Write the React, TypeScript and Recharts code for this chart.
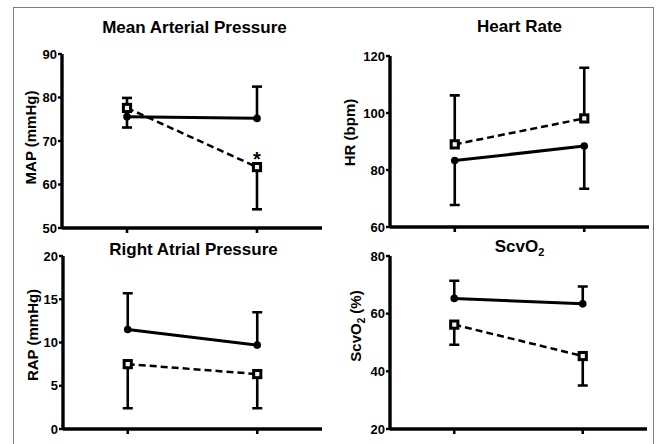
import React from "react";
import { LineChart, Line, XAxis, YAxis, ErrorBar, LabelList } from "recharts";

const FONT = "'Liberation Sans', Arial, Helvetica, sans-serif";

// two time points on the x axis
const timepoints = [1, 2];

// Mean arterial pressure (mmHg); errors are [below, above]
const mapSolid = [75.6, 75.2];
const mapSolidErr = [[0, 4.3], [0, 7.3]];
const mapDashed = [77.6, 64.0];
const mapDashedErr = [[4.5, 0], [9.7, 0]];
const mapMarks = ["", "*"];
const mapTicks = [50, 60, 70, 80, 90];

// Heart rate (bpm)
const hrSolid = [83.3, 88.4];
const hrSolidErr = [[15.6, 0], [15.0, 0]];
const hrDashed = [89.0, 98.1];
const hrDashedErr = [[0, 17.2], [0, 17.8]];
const hrTicks = [60, 80, 100, 120];

// Right atrial pressure (mmHg)
const rapSolid = [11.5, 9.7];
const rapSolidErr = [[0, 4.2], [0, 3.8]];
const rapDashed = [7.5, 6.35];
const rapDashedErr = [[5.1, 0], [3.95, 0]];
const rapTicks = [0, 5, 10, 15, 20];

// ScvO2 (%)
const scvSolid = [65.3, 63.4];
const scvSolidErr = [[0, 6.1], [0, 6.0]];
const scvDashed = [56.2, 45.3];
const scvDashedErr = [[7.0, 0], [10.2, 0]];
const scvTicks = [20, 40, 60, 80];

const capOf = (mean: number, err: number[]) => (err[1] > 0 ? mean + err[1] : mean - err[0]);

function buildRows(solid: number[], solidErr: number[][], dashed: number[], dashedErr: number[][], marks?: string[]) {
  return timepoints.map((t, i) => ({
    t,
    solid: solid[i],
    solidErr: solidErr[i],
    solidCap: capOf(solid[i], solidErr[i]),
    dashed: dashed[i],
    dashedErr: dashedErr[i],
    dashedCap: capOf(dashed[i], dashedErr[i]),
    mark: marks ? marks[i] : "",
  }));
}

const capDot = (p: any) => (
  <line key={`cap-${p.index}`} x1={p.cx - 5} x2={p.cx + 5} y1={p.cy} y2={p.cy} stroke="#000" strokeWidth={2.6} />
);
const circleDot = (p: any) => <circle key={`c-${p.index}`} cx={p.cx} cy={p.cy} r={3.8} fill="#000" />;
const squareDot = (p: any) => (
  <rect key={`s-${p.index}`} x={p.cx - 3.6} y={p.cy - 3.6} width={7.2} height={7.2} fill="#f2f2f2" stroke="#000" strokeWidth={3} />
);

const tickStyle = { fill: "#000", fontSize: 13, fontWeight: "bold" as const, fontFamily: FONT };

function Panel({ left, top, height, right, marginTop, domain, ticks, rows }: any) {
  return (
    <div style={{ position: "absolute", left, top }}>
      <LineChart width={330} height={height} data={rows} margin={{ top: marginTop, right, bottom: 0, left: 0 }}>
        <XAxis
          dataKey="t"
          type="number"
          domain={[0.5, 2.5]}
          ticks={timepoints}
          tickFormatter={() => ""}
          height={17}
          axisLine={{ stroke: "#000", strokeWidth: 3.4 }}
          tickLine={{ stroke: "#000", strokeWidth: 2.6 }}
          tickSize={5}
        />
        <YAxis
          type="number"
          domain={domain}
          ticks={ticks}
          allowDataOverflow
          width={62}
          tick={tickStyle}
          axisLine={{ stroke: "#000", strokeWidth: 3.4 }}
          tickLine={{ stroke: "#000", strokeWidth: 2.4 }}
          tickSize={4}
          tickMargin={1}
        />
        <Line dataKey="solidCap" stroke="none" dot={capDot} activeDot={false} isAnimationActive={false} legendType="none" />
        <Line dataKey="dashedCap" stroke="none" dot={capDot} activeDot={false} isAnimationActive={false} legendType="none" />
        <Line
          dataKey="dashed"
          stroke="#000"
          strokeWidth={2.5}
          strokeDasharray="7 4"
          dot={squareDot}
          activeDot={false}
          isAnimationActive={false}
        >
          <ErrorBar dataKey="dashedErr" width={0} stroke="#000" strokeWidth={2.6} isAnimationActive={false} />
          <LabelList
            dataKey="mark"
            content={(p: any) =>
              p.value ? (
                <text x={p.x} y={p.y - 1.5} textAnchor="middle" fontSize={20} fontWeight="bold" fontFamily={FONT} fill="#000">
                  {p.value}
                </text>
              ) : null
            }
          />
        </Line>
        <Line dataKey="solid" stroke="#000" strokeWidth={3} dot={circleDot} activeDot={false} isAnimationActive={false}>
          <ErrorBar dataKey="solidErr" width={0} stroke="#000" strokeWidth={2.6} isAnimationActive={false} />
        </Line>
      </LineChart>
    </div>
  );
}

function YLabel({ x, y, children }: any) {
  return (
    <text transform={`translate(${x},${y}) rotate(-90)`} textAnchor="middle" fontSize={15} fontWeight="bold" fontFamily={FONT} fill="#000">
      {children}
    </text>
  );
}

function Title({ x, y, children }: any) {
  return (
    <text x={x} y={y} textAnchor="middle" fontSize={17} fontWeight="bold" fontFamily={FONT} fill="#000">
      {children}
    </text>
  );
}

export default function App() {
  return (
    <div style={{ position: "fixed", left: 0, top: 0, width: 659, height: 444, background: "#fff", overflow: "hidden" }}>
      <div
        style={{
          position: "absolute",
          left: 13,
          top: 7,
          width: 641,
          height: 500,
          boxSizing: "border-box",
          borderLeft: "1.5px solid #7c7c7c",
          borderTop: "1.5px solid #7c7c7c",
          borderRight: "1.5px solid #7c7c7c",
        }}
      />
      <Panel left={0} top={0} height={245} right={8} marginTop={54} domain={[50, 90]} ticks={mapTicks}
        rows={buildRows(mapSolid, mapSolidErr, mapDashed, mapDashedErr, mapMarks)} />
      <Panel left={328} top={0} height={244} right={9} marginTop={56} domain={[60, 120]} ticks={hrTicks}
        rows={buildRows(hrSolid, hrSolidErr, hrDashed, hrDashedErr)} />
      <Panel left={1} top={202} height={244} right={9} marginTop={54} domain={[0, 20]} ticks={rapTicks}
        rows={buildRows(rapSolid, rapSolidErr, rapDashed, rapDashedErr)} />
      <Panel left={328} top={202} height={244} right={11} marginTop={54} domain={[20, 80]} ticks={scvTicks}
        rows={buildRows(scvSolid, scvSolidErr, scvDashed, scvDashedErr)} />
      <svg width={659} height={444} style={{ position: "absolute", left: 0, top: 0, pointerEvents: "none" }}>
        <Title x={194.5} y={32.5}>Mean Arterial Pressure</Title>
        <Title x={519.5} y={32}>Heart Rate</Title>
        <Title x={193.5} y={254.5}>Right Atrial Pressure</Title>
        <Title x={519.5} y={252}>
          ScvO<tspan fontSize={11} dy={4}>2</tspan>
        </Title>
        <YLabel x={36} y={137.5}>MAP (mmHg)</YLabel>
        <YLabel x={355} y={132.5}>HR (bpm)</YLabel>
        <YLabel x={38} y={335}>RAP (mmHg)</YLabel>
        <YLabel x={361} y={326}>
          ScvO<tspan fontSize={10} dy={4}>2</tspan>
          <tspan dy={-4}> (%)</tspan>
        </YLabel>
      </svg>
    </div>
  );
}
